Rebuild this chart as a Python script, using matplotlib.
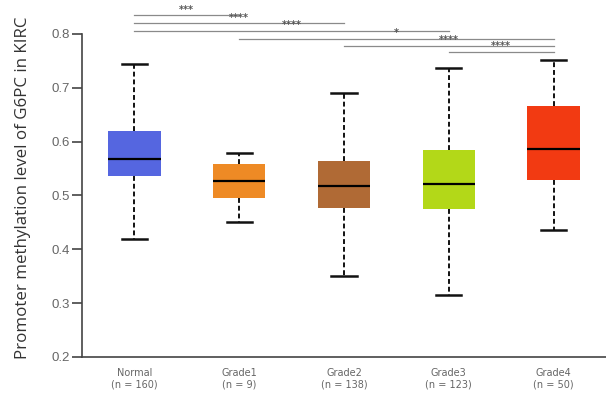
import matplotlib
matplotlib.use("Agg")
import matplotlib.pyplot as plt

# box statistics per group (methylation beta values)
groups = ["Normal", "Grade1", "Grade2", "Grade3", "Grade4"]
counts = [160, 9, 138, 123, 50]
whislo = [0.419, 0.450, 0.350, 0.315, 0.435]
q1 = [0.536, 0.495, 0.476, 0.474, 0.529]
med = [0.568, 0.527, 0.517, 0.521, 0.586]
q3 = [0.620, 0.558, 0.564, 0.584, 0.666]
whishi = [0.744, 0.578, 0.690, 0.736, 0.752]
colors = ["#5566E0", "#EE8A25", "#B06A35", "#B3D818", "#F23A12"]

# pairwise comparisons: (group a, group b, bar height, stars)
comparisons = [
    (1, 2, 0.835, "***"),
    (1, 3, 0.820, "****"),
    (1, 4, 0.806, "****"),
    (2, 5, 0.791, "*"),
    (3, 5, 0.778, "****"),
    (4, 5, 0.767, "****"),
]

fig = plt.figure(figsize=(6.06, 3.94), dpi=100)
ax = fig.add_axes([0.1353, 0.094, 0.8647, 0.906])

stats = []
for i in range(len(groups)):
    stats.append({"whislo": whislo[i], "q1": q1[i], "med": med[i],
                  "q3": q3[i], "whishi": whishi[i], "fliers": []})

bp = ax.bxp(stats, positions=range(1, 6), widths=0.5, patch_artist=True,
            showfliers=False,
            boxprops=dict(linewidth=0),
            medianprops=dict(color="black", linewidth=1.6),
            whiskerprops=dict(color="#111111", linewidth=1.4, linestyle=(0, (2.5, 1.5))),
            capprops=dict(color="#111111", linewidth=1.8),
            capwidths=0.24)
for patch, c in zip(bp["boxes"], colors):
    patch.set_facecolor(c)
    patch.set_edgecolor(c)

for a, b, h, s in comparisons:
    ax.plot([a, b], [h, h], color="#8a8a8a", linewidth=0.9, clip_on=False)
    ax.text((a + b) / 2, h + 0.001, s, ha="center", va="bottom",
            fontsize=7, color="#555555", fontweight="bold")

ax.set_xlim(0.5, 5.5)
ax.set_ylim(0.2, 0.863)
ax.set_yticks([0.2, 0.3, 0.4, 0.5, 0.6, 0.7, 0.8])
ax.set_yticklabels(["0.2", "0.3", "0.4", "0.5", "0.6", "0.7", "0.8"],
                   fontsize=9.5, color="#666666", family="Liberation Sans")
ax.set_xticks(range(1, 6))
ax.set_xticklabels([f"{g}\n(n = {n})" for g, n in zip(groups, counts)],
                   fontsize=7, color="#666666", family="DejaVu Sans",
                   linespacing=1.15)
ax.tick_params(axis="x", length=0, pad=8)
ax.tick_params(axis="y", length=7, width=1.2, color="#444444", pad=2)

ax.spines["top"].set_visible(False)
ax.spines["right"].set_visible(False)
ax.spines["left"].set_bounds(0.2, 0.8)
for side in ["left", "bottom"]:
    ax.spines[side].set_color("#444444")
    ax.spines[side].set_linewidth(1.2)

ax.set_ylabel("Promoter methylation level of G6PC in KIRC", fontsize=12.2,
              color="#333333", family="Open Sans")
ax.yaxis.set_label_coords(-0.098, 0.473)

fig.savefig("out.png", dpi=100)
